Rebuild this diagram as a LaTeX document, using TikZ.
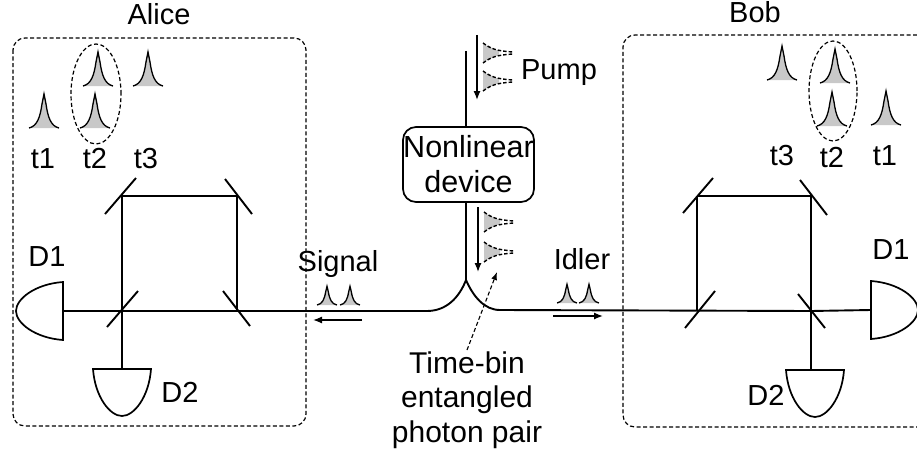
\documentclass[tikz,border=0pt]{standalone}
\usepackage{fontspec}
\setmainfont{Liberation Sans}
\usetikzlibrary{arrows.meta,shapes.geometric}
\definecolor{stipple}{RGB}{200,200,200}
\tikzset{
  lbl/.style={anchor=base, inner sep=0pt, font=\fontsize{29}{35}\selectfont},
  devicebox/.style={draw, rounded corners=13pt, line width=1.7pt, minimum width=131pt, minimum height=75pt,
    inner sep=0pt, align=center, font=\fontsize{30.5}{35}\selectfont},
  multilbl/.style={inner sep=0pt, align=center, font=\fontsize{30}{34.5}\selectfont},
  partybox/.style={draw, line width=1.2pt, dash pattern=on 4pt off 2.5pt, rounded corners=12pt},
  bingroup/.style={draw, ellipse, line width=1.2pt, dash pattern=on 4pt off 2.5pt, inner sep=0pt},
  beam/.style={line width=1.9pt},
  mirror/.style={line width=1.9pt},
  flow/.style={-{Latex[length=9pt,width=7pt]}, line width=1.3pt},
  leader/.style={-{Latex[length=8pt,width=6pt]}, line width=1.1pt, dash pattern=on 4pt off 2.5pt},
  pics/pulse/.style={code={
    \fill[stipple] (-15,0) .. controls (-7,-2) and (-4,-10) .. (-2,-24) -- (0,-34) -- (2,-24) .. controls (4,-10) and (7,-2) .. (15,0) -- cycle;
    \draw[line width=1.3pt] (-15,0) .. controls (-7,-2) and (-4,-10) .. (-2,-24) -- (0,-34) -- (2,-24) .. controls (4,-10) and (7,-2) .. (15,0);
  }},
  pics/sidepulse/.style={code={
    \fill[stipple] (0,-9) -- (16,-2) -- (16,2) -- (0,9) -- cycle;
    \draw[line width=1.4pt, dash pattern=on 3.5pt off 2pt] (0,-10) .. controls (8,-4) and (14,-2) .. (30,-1);
    \draw[line width=1.4pt, dash pattern=on 3.5pt off 2pt] (0,10) .. controls (8,4) and (14,2) .. (30,1);
  }},
  pics/detector/.style={code={
    \draw[fill=white, line width=1.7pt] (-29,0) .. controls (-27,28) and (-12,47) .. (0,47) .. controls (12,47) and (27,28) .. (29,0) -- cycle;
  }}
}
\begin{document}
\begin{tikzpicture}[x=1pt,y=-1pt]
\useasboundingbox (0,0) rectangle (917,452);

\node[lbl] (alice) at (159,25) {Alice};
\node[lbl] (bob) at (755,23) {Bob};
\draw[partybox] (13,38) rectangle (306,426);
\draw[partybox] (917,35) -- (623,35) -- (623,427) -- (917,427);

\coordinate (ain) at (427,311);
\coordinate (atl) at (122,196);
\coordinate (atr) at (237,196);
\coordinate (ass) at (237,311);
\coordinate (abs) at (122,311);
\coordinate (ad1) at (63,311);
\coordinate (ad2) at (122,369);
\coordinate (bin) at (500,310);
\coordinate (btl) at (697,196);
\coordinate (btr) at (811,196);
\coordinate (bss) at (697,310);
\coordinate (bbs) at (811,311);
\coordinate (bd1) at (871,310);
\coordinate (bd2) at (815,370);
\coordinate (top) at (466,51);
\coordinate (fork) at (466,280);

\node[devicebox] (nl) at (468.5,164.5) {Nonlinear\\device};

\draw[beam] (top) -- (nl.north -| top);
\draw[beam] (nl.south -| top) -- (fork);
\draw[beam] (fork) .. controls (459,298) and (446,311) .. (ain);
\draw[beam] (fork) .. controls (473,296) and (484,310) .. (bin);
\draw[beam] (ain) -- (ad1);
\draw[beam] (atr) -- (ass);
\draw[beam] (atl) -- (atr);
\draw[beam] (atl) -- (ad2);
\draw[beam] (bin) -- (bbs) -- (bd1);
\draw[beam] (btl) -- (btr);
\draw[beam] (btl) -- (bss);
\draw[beam] (btr) -- (bd2 -| btr);

\draw[mirror] (105,214) -- (136,178);
\draw[mirror] (225,179) -- (252,214);
\draw[mirror] (107,327) -- (138,291);
\draw[mirror] (223,291) -- (250,326);
\draw[mirror] (683,213) -- (713,178);
\draw[mirror] (800,180) -- (827,215);
\draw[mirror] (685,328) -- (715,291);
\draw[mirror] (798,294) -- (825,328);

\pic[rotate=-90] at (ad1) {detector};
\pic at (ad2) {detector};
\pic[rotate=90] at (bd1) {detector};
\pic at (bd2) {detector};

\pic at (98,86) {pulse};
\pic at (148,86) {pulse};
\pic at (44,128) {pulse};
\pic at (95,128) {pulse};
\pic at (782,80) {pulse};
\pic at (835,83) {pulse};
\pic at (832,126) {pulse};
\pic at (886,125) {pulse};
\pic[xscale=.66,yscale=.55] at (327,305) {pulse};
\pic[xscale=.66,yscale=.55] at (350,305) {pulse};
\pic[xscale=.66,yscale=.55] at (567,303) {pulse};
\pic[xscale=.66,yscale=.55] at (589,303) {pulse};

\pic at (483,53) {sidepulse};
\pic at (483,81) {sidepulse};
\pic at (484,222) {sidepulse};
\pic at (484,252) {sidepulse};

\node[bingroup, minimum width=50pt, minimum height=100pt] (g2a) at (96,94) {};
\node[bingroup, minimum width=48pt, minimum height=100pt] (g2b) at (833,91) {};

\node[lbl] (at1) at (43,168) {t1};
\node[lbl] (at2) at (95,168) {t2};
\node[lbl] (at3) at (146,168) {t3};
\node[lbl] (bt3) at (782,165) {t3};
\node[lbl] (bt2) at (832,167) {t2};
\node[lbl] (bt1) at (885,165) {t1};
\node[lbl] (ad1l) at (47,266) {D1};
\node[lbl] (ad2l) at (180,402) {D2};
\node[lbl] (bd1l) at (891,259) {D1};
\node[lbl] (bd2l) at (766,405) {D2};
\node[lbl] (sig) at (338,271) {Signal};
\node[lbl] (idl) at (582,269) {Idler};
\node[lbl] (pump) at (559,79) {Pump};
\node[multilbl] (tb) at (467,400) {Time-bin\\entangled\\photon pair};

\coordinate (pa) at (477,35);
\coordinate (pb) at (477,100);
\coordinate (qa) at (478,207);
\coordinate (qb) at (478,272);
\coordinate (sa) at (362,320);
\coordinate (sb) at (313,320);
\coordinate (ia) at (553,316);
\coordinate (ib) at (603,316);
\coordinate (tbtail) at (467,350);
\coordinate (tbtip) at (497,272);

\draw[flow] (pa) -- (pb);
\draw[flow] (qa) -- (qb);
\draw[flow] (sa) -- (sb);
\draw[flow] (ia) -- (ib);
\draw[leader] (tbtail) -- (tbtip);
\end{tikzpicture}
\end{document}
